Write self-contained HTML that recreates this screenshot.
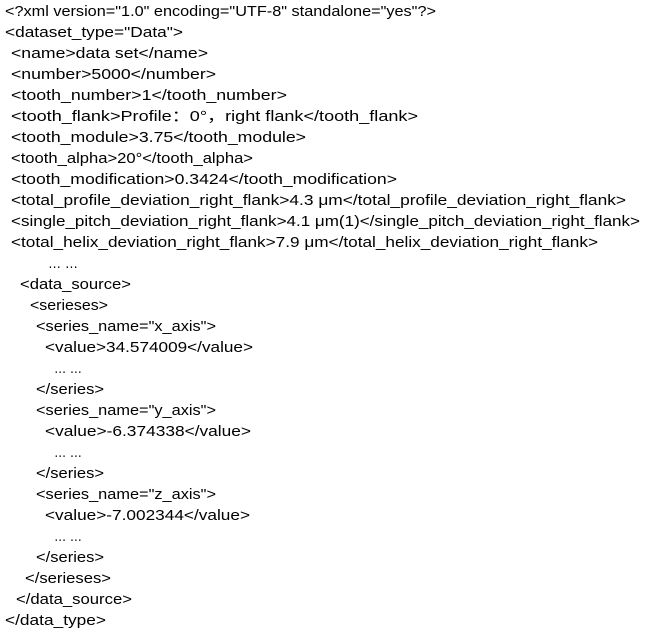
<!DOCTYPE html>
<html><head><meta charset="utf-8"><style>
html,body{margin:0;padding:0;background:#fff;width:654px;height:634px;overflow:hidden}
text{font-family:"Liberation Sans","Noto Sans CJK SC",sans-serif;font-size:15px;fill:#000}
</style></head><body>
<svg width="654" height="634" xmlns="http://www.w3.org/2000/svg">
<text x="5" y="16" textLength="431" lengthAdjust="spacingAndGlyphs">&lt;?xml version="1.0" encoding="UTF-8" standalone="yes"?&gt;</text>
<text x="5" y="37" textLength="178" lengthAdjust="spacingAndGlyphs">&lt;dataset_type="Data"&gt;</text>
<text x="11" y="58" textLength="197" lengthAdjust="spacingAndGlyphs">&lt;name&gt;data set&lt;/name&gt;</text>
<text x="11" y="79" textLength="205" lengthAdjust="spacingAndGlyphs">&lt;number&gt;5000&lt;/number&gt;</text>
<text x="11" y="100" textLength="276" lengthAdjust="spacingAndGlyphs">&lt;tooth_number&gt;1&lt;/tooth_number&gt;</text>
<text x="11" y="121" textLength="407" lengthAdjust="spacingAndGlyphs">&lt;tooth_flank&gt;Profile：0°，right flank&lt;/tooth_flank&gt;</text>
<text x="11" y="142" textLength="295" lengthAdjust="spacingAndGlyphs">&lt;tooth_module&gt;3.75&lt;/tooth_module&gt;</text>
<text x="11" y="163" textLength="242" lengthAdjust="spacingAndGlyphs">&lt;tooth_alpha&gt;20°&lt;/tooth_alpha&gt;</text>
<text x="11" y="184" textLength="386" lengthAdjust="spacingAndGlyphs">&lt;tooth_modification&gt;0.3424&lt;/tooth_modification&gt;</text>
<text x="11" y="205" textLength="615" lengthAdjust="spacingAndGlyphs">&lt;total_profile_deviation_right_flank&gt;4.3 μm&lt;/total_profile_deviation_right_flank&gt;</text>
<text x="11" y="226" textLength="629" lengthAdjust="spacingAndGlyphs">&lt;single_pitch_deviation_right_flank&gt;4.1 μm(1)&lt;/single_pitch_deviation_right_flank&gt;</text>
<text x="11" y="247" textLength="587" lengthAdjust="spacingAndGlyphs">&lt;total_helix_deviation_right_flank&gt;7.9 μm&lt;/total_helix_deviation_right_flank&gt;</text>
<text x="48" y="268" textLength="30" lengthAdjust="spacingAndGlyphs">… …</text>
<text x="20" y="289" textLength="111" lengthAdjust="spacingAndGlyphs">&lt;data_source&gt;</text>
<text x="30" y="310" textLength="78" lengthAdjust="spacingAndGlyphs">&lt;serieses&gt;</text>
<text x="36" y="331" textLength="180" lengthAdjust="spacingAndGlyphs">&lt;series_name="x_axis"&gt;</text>
<text x="45" y="352" textLength="208" lengthAdjust="spacingAndGlyphs">&lt;value&gt;34.574009&lt;/value&gt;</text>
<text x="54" y="373" textLength="28" lengthAdjust="spacingAndGlyphs">… …</text>
<text x="36" y="394" textLength="68" lengthAdjust="spacingAndGlyphs">&lt;/series&gt;</text>
<text x="36" y="415" textLength="180" lengthAdjust="spacingAndGlyphs">&lt;series_name="y_axis"&gt;</text>
<text x="45" y="436" textLength="206" lengthAdjust="spacingAndGlyphs">&lt;value&gt;-6.374338&lt;/value&gt;</text>
<text x="54" y="457" textLength="28" lengthAdjust="spacingAndGlyphs">… …</text>
<text x="36" y="478" textLength="68" lengthAdjust="spacingAndGlyphs">&lt;/series&gt;</text>
<text x="36" y="499" textLength="180" lengthAdjust="spacingAndGlyphs">&lt;series_name="z_axis"&gt;</text>
<text x="45" y="520" textLength="205" lengthAdjust="spacingAndGlyphs">&lt;value&gt;-7.002344&lt;/value&gt;</text>
<text x="54" y="541" textLength="28" lengthAdjust="spacingAndGlyphs">… …</text>
<text x="36" y="562" textLength="68" lengthAdjust="spacingAndGlyphs">&lt;/series&gt;</text>
<text x="25" y="583" textLength="86" lengthAdjust="spacingAndGlyphs">&lt;/serieses&gt;</text>
<text x="16" y="604" textLength="116" lengthAdjust="spacingAndGlyphs">&lt;/data_source&gt;</text>
<text x="5" y="625" textLength="101" lengthAdjust="spacingAndGlyphs">&lt;/data_type&gt;</text>
</svg>
</body></html>
